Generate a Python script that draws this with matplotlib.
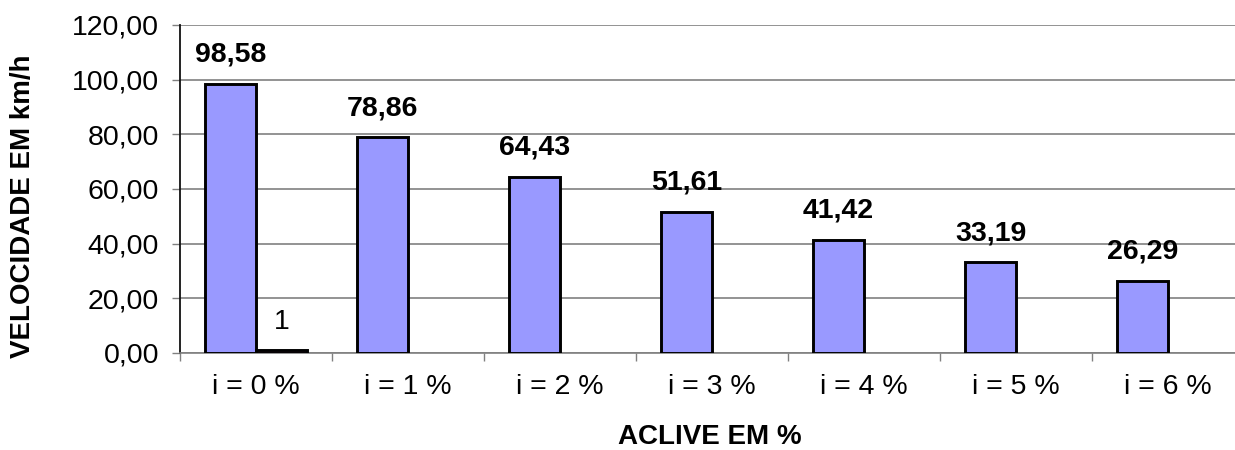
import matplotlib
matplotlib.use("Agg")
import matplotlib.pyplot as plt
import numpy as np

plt.rcParams['font.family'] = ['Liberation Sans', 'DejaVu Sans']

categories = ["i = 0 %", "i = 1 %", "i = 2 %", "i = 3 %", "i = 4 %", "i = 5 %", "i = 6 %"]
velocidade = [98.58, 78.86, 64.43, 51.61, 41.42, 33.19, 26.29]
serie2 = [1, np.nan, np.nan, np.nan, np.nan, np.nan, np.nan]
y_ticks = [0, 20, 40, 60, 80, 100, 120]

W, H = 1235, 450
fig = plt.figure(figsize=(W / 100, H / 100), dpi=100)
ax = fig.add_axes([180 / W, (H - 353) / H, 1064 / W, 328 / H])

x = np.arange(len(categories))
bw = 0.335
b1 = ax.bar(x - bw / 2, velocidade, width=bw, color="#9999FF",
            edgecolor="black", linewidth=2.1, zorder=3)
b2 = ax.bar(x + bw / 2, serie2, width=bw, color="#993366",
            edgecolor="black", linewidth=2.1, zorder=3)

def fmt(v):
    return f"{v:.2f}".replace(".", ",")

for rect, v in zip(b1, velocidade):
    ax.annotate(fmt(v), (rect.get_x() + rect.get_width() / 2, v),
                xytext=(0, 21), textcoords="offset points",
                ha="center", va="center", fontsize=20.5, fontweight="bold")
for rect, v in zip(b2, serie2):
    if not np.isnan(v):
        ax.annotate(f"{v:g}", (rect.get_x() + rect.get_width() / 2, v),
                    xytext=(0, 20), textcoords="offset points",
                    ha="center", va="center", fontsize=20.5)

ax.set_xlim(-0.5, len(categories) - 0.5)
ax.set_ylim(0, 120)
ax.set_yticks(y_ticks)
ax.set_yticklabels([fmt(t) for t in y_ticks], fontsize=20.5)
ax.yaxis.grid(True, color="#808080", linewidth=1.2, zorder=0)
ax.set_axisbelow(True)

ax.set_xticks(x)
ax.set_xticklabels(categories, fontsize=20.5)
ax.set_xticks(np.arange(len(categories) + 1) - 0.5, minor=True)
ax.tick_params(axis="x", which="major", length=0, pad=15)
ax.tick_params(axis="x", which="minor", length=6, color="#808080", width=1)
ax.tick_params(axis="y", length=6, color="#808080", width=1, pad=9)

for side in ("top", "right"):
    ax.spines[side].set_visible(False)
ax.spines["left"].set_color("#111111")
ax.spines["left"].set_linewidth(1.3)
ax.spines["bottom"].set_color("#808080")
ax.spines["bottom"].set_linewidth(1.2)

fig.text(23 / W, 1 - 206 / H, "VELOCIDADE EM km/h", rotation=90,
         ha="center", va="center", fontsize=20, fontweight="bold")
fig.text(710 / W, 1 - 437 / H, "ACLIVE EM %",
         ha="center", va="center", fontsize=20, fontweight="bold")

fig.savefig("out.png", dpi=100)
